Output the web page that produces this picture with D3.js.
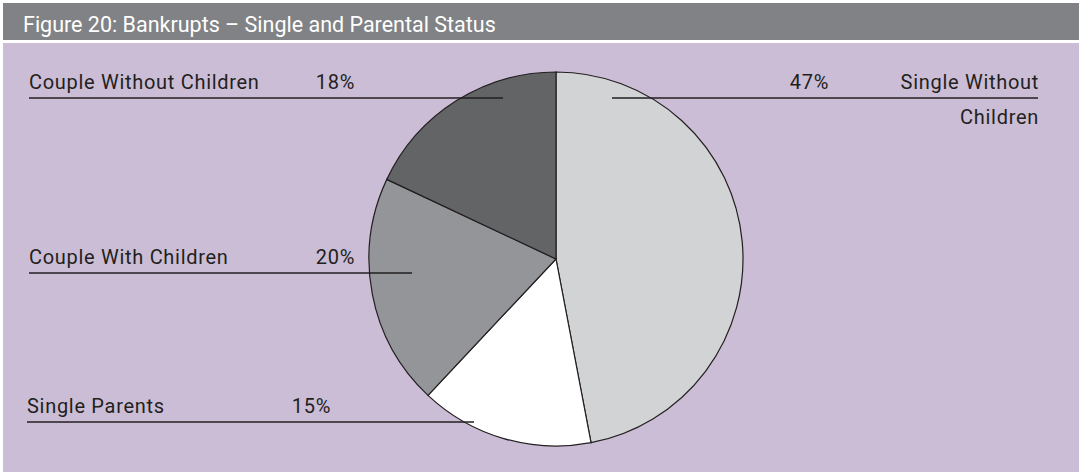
<!DOCTYPE html>
<html>
<head>
<meta charset="utf-8">
<script src="https://cdnjs.cloudflare.com/ajax/libs/d3/7.8.5/d3.min.js"></script>
<style>
  html, body { margin: 0; background: #fff; overflow: hidden; }
  svg { display: block; }
  svg text { font-family: Roboto, "DejaVu Sans", sans-serif; }
</style>
</head>
<body>
<div id="chart"></div>
<script>
// data (clockwise from 12 o'clock)
const categories = ["Single Without Children", "Single Parents", "Couple With Children", "Couple Without Children"];
const values = [47, 15, 20, 18];
const colours = ["#d1d3d4", "#ffffff", "#939598", "#636466"];
const title = "Figure 20: Bankrupts \u2013 Single and Parental Status";

// label layout: text lines, line y, where leader starts/ends, percent x
const labelLayout = [
  { lines: ["Single Without", "Children"], side: "right", lineY: 98, inner: 612, outer: 1038, pctX: 829 },
  { lines: ["Single Parents"], side: "left", lineY: 422, inner: 474, outer: 27, pctX: 331 },
  { lines: ["Couple With Children"], side: "left", lineY: 273, inner: 412, outer: 29, pctX: 355 },
  { lines: ["Couple Without Children"], side: "left", lineY: 98, inner: 503, outer: 29, pctX: 355 }
];

const W = 1079, H = 472;
const svg = d3.select("#chart").append("svg")
  .attr("width", W).attr("height", H);

// header band
svg.append("rect").attr("x", 3).attr("y", 3).attr("width", W - 3).attr("height", 37)
  .attr("fill", "#808285");
svg.append("text").attr("x", 23).attr("y", 32)
  .attr("fill", "#fff").style("font-size", "21.5px")
  .text(title);

// panel
svg.append("rect").attr("x", 3).attr("y", 43).attr("width", W - 3).attr("height", H - 43)
  .attr("fill", "#cbbdd6");

const cx = 556, cy = 259, r = 187;
const pie = d3.pie().sort(null).value(d => d);
const arc = d3.arc().innerRadius(0).outerRadius(r);

const g = svg.append("g").attr("transform", `translate(${cx},${cy})`);
g.selectAll("path")
  .data(pie(values))
  .enter()
  .append("path")
  .attr("d", arc)
  .attr("fill", (d, i) => colours[i])
  .attr("stroke", "#231f20")
  .attr("stroke-width", 1.2);

// labels and leader lines
const ink = "#231f20";
labelLayout.forEach((L, i) => {
  const x1 = Math.min(L.inner, L.outer), x2 = Math.max(L.inner, L.outer);
  svg.append("line")
    .attr("x1", x1).attr("x2", x2).attr("y1", L.lineY).attr("y2", L.lineY)
    .attr("stroke", ink).attr("stroke-width", 1.3);
  const anchor = L.side === "right" ? "end" : "start";
  L.lines.forEach((t, k) => {
    svg.append("text")
      .attr("x", L.outer + (L.side === "right" ? 1 : 0))
      .attr("y", L.lineY - 9 + k * 35)
      .attr("text-anchor", anchor)
      .attr("fill", ink)
      .style("font-size", "20px")
      .style("letter-spacing", "0.7px")
      .text(t);
  });
  svg.append("text")
    .attr("x", L.pctX).attr("y", L.lineY - 9)
    .attr("text-anchor", "end")
    .attr("fill", ink)
    .style("font-size", "20px")
    .style("letter-spacing", "0.7px")
    .text(values[i] + "%");
});
</script>
</body>
</html>
